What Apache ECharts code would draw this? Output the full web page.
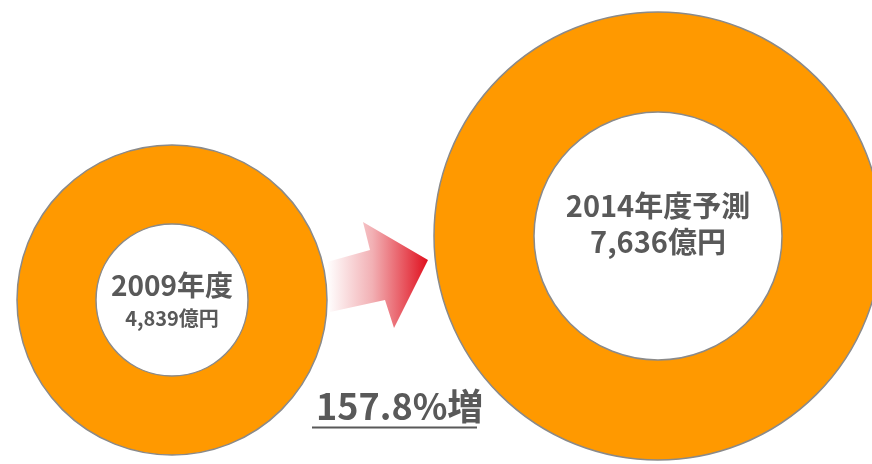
<!DOCTYPE html>
<html><head><meta charset="utf-8">
<script src="https://cdn.jsdelivr.net/npm/echarts@6/dist/echarts.min.js"></script>
<style>html,body{margin:0;padding:0;background:#fff}#c{width:872px;height:464px}</style>
</head><body><div id="c"></div>
<script>
const years = ['2009年度', '2014年度予測'];
const values = [4839, 7636]; // 億円
const unit = '億円';
const increaseLabel = (values[1] / values[0] * 100).toFixed(1) + '%増';

const FONT = '"Noto Sans CJK JP", "Noto Sans", sans-serif';
const TXT = '#595959';
const ORANGE = '#FF9900';

function fmt(v){ return v.toLocaleString('en-US'); }

const chart = echarts.init(document.getElementById('c'), null, {renderer:'canvas'});
const common = {
  type: 'pie', silent: true, animation: false, startAngle: 90,
  itemStyle: {color: ORANGE, borderColor: '#8a8a8a', borderWidth: 1.5},
  labelLine: {show: false},
  emphasis: {disabled: true}
};
chart.setOption({
  series: [
    Object.assign({}, common, {
      center: [172, 300], radius: [76, 155],
      data: [{name: years[0], value: values[0]}],
      label: {
        show: true, position: 'center',
        formatter: p => '{a|' + p.name + '}\n{b|' + fmt(p.value) + unit + '}',
        rich: {
          a: {fontFamily: FONT, fontWeight: 'bold', fontSize: 28, color: TXT, lineHeight: 36},
          b: {fontFamily: FONT, fontWeight: 'bold', fontSize: 20, color: TXT, lineHeight: 30}
        }
      }
    }),
    Object.assign({}, common, {
      center: [658, 236], radius: [124, 224],
      data: [{name: years[1], value: values[1]}],
      label: {
        show: true, position: 'center', offset: [0, -12],
        formatter: p => '{a|' + p.name + '}\n{a|' + fmt(p.value) + unit + '}',
        rich: {
          a: {fontFamily: FONT, fontWeight: 'bold', fontSize: 29, color: TXT, lineHeight: 36}
        }
      }
    })
  ],
  graphic: [
    {
      type: 'polygon', silent: true,
      shape: {points: [[327,262],[370,250],[363,222],[428,260],[394,328],[385,300],[330,312]]},
      style: {
        fill: new echarts.graphic.LinearGradient(0, 0, 1, 0, [
          {offset: 0, color: 'rgba(255,255,255,1)'},
          {offset: 0.45, color: '#f2b0b4'},
          {offset: 1, color: '#e0101e'}
        ])
      }
    },
    {
      type: 'text', silent: true, left: 316, top: 388,
      style: {text: increaseLabel, fontFamily: FONT, fontWeight: 'bold', fontSize: 36, fill: TXT}
    },
    {
      type: 'line', silent: true,
      shape: {x1: 312, y1: 427.5, x2: 477, y2: 427.5},
      style: {stroke: TXT, lineWidth: 2}
    }
  ]
});
</script></body></html>
